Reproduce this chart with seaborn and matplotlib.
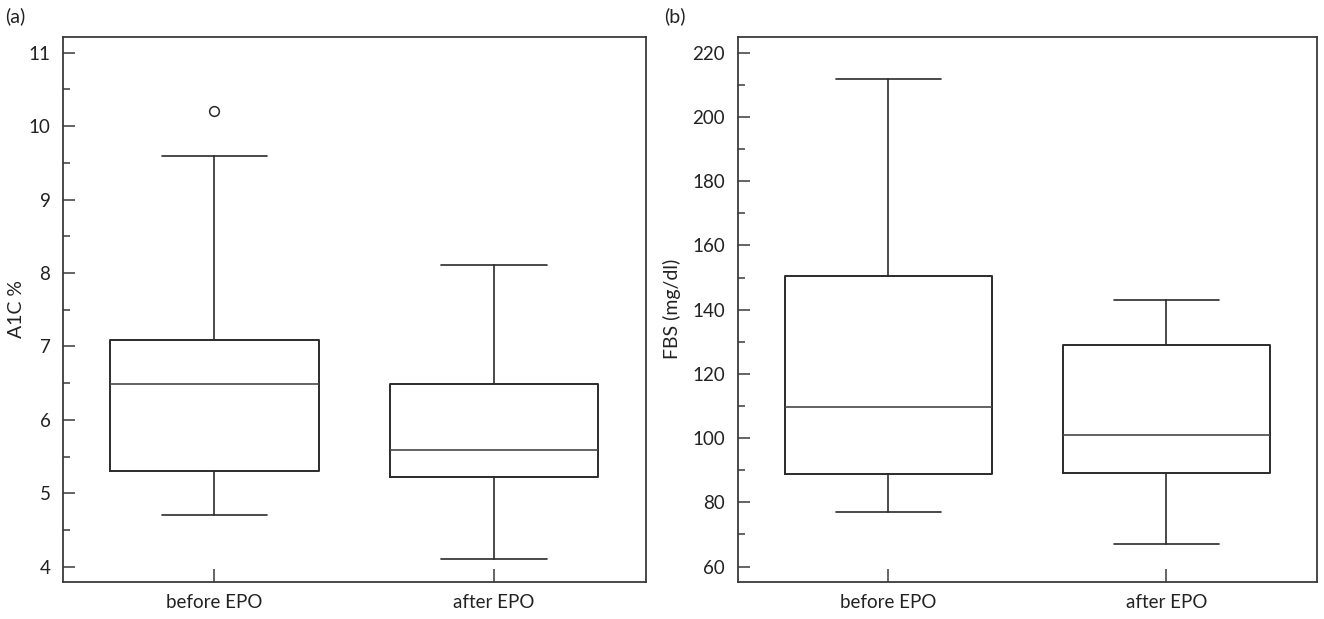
import matplotlib
matplotlib.use("Agg")
import matplotlib.pyplot as plt
import seaborn as sns
from matplotlib.ticker import MultipleLocator

# ---- data ----
groups = ["before EPO", "after EPO"]

a1c_whislo = [4.7, 4.1]
a1c_q1 = [5.30, 5.22]
a1c_med = [6.49, 5.59]
a1c_q3 = [7.09, 6.49]
a1c_whishi = [9.60, 8.11]
a1c_fliers = [[10.2], []]

fbs_whislo = [77.0, 67.0]
fbs_q1 = [88.8, 89.1]
fbs_med = [109.8, 101.0]
fbs_q3 = [150.5, 129.0]
fbs_whishi = [211.7, 143.0]
fbs_fliers = [[], []]

a1c_ticks = [4, 5, 6, 7, 8, 9, 10, 11]
fbs_ticks = [60, 80, 100, 120, 140, 160, 180, 200, 220]

sns.set_theme(style="ticks")
plt.rcParams["font.family"] = ["Lato", "DejaVu Sans"]

LINE = "#2b2b2b"
MED = "#484848"

fig = plt.figure(figsize=(13.24, 6.19), dpi=100)
ax1 = fig.add_axes([63 / 1324, (619 - 581.7) / 619, 582.7 / 1324, 544.7 / 619])
ax2 = fig.add_axes([737.7 / 1324, (619 - 581.7) / 619, 579.6 / 1324, 544.7 / 619])


def make_stats(lo, q1, med, q3, hi, fl):
    return [dict(whislo=lo[i], q1=q1[i], med=med[i], q3=q3[i], whishi=hi[i],
                 fliers=fl[i], label=groups[i]) for i in range(len(groups))]


def draw(ax, stats, ylim, ticks, minor, ylabel, labelpad):
    ax.bxp(stats, positions=range(len(groups)), widths=0.745, capwidths=0.377,
           showfliers=True, patch_artist=False,
           boxprops=dict(color=LINE, linewidth=1.4),
           whiskerprops=dict(color=LINE, linewidth=1.2),
           capprops=dict(color=LINE, linewidth=1.2),
           medianprops=dict(color=MED, linewidth=1.2),
           flierprops=dict(marker="o", markerfacecolor="none",
                           markeredgecolor=LINE, markersize=7, markeredgewidth=1.1))
    ax.set_xlim(-0.541, 1.542)
    ax.set_ylim(*ylim)
    ax.set_yticks(ticks)
    ax.set_yticklabels([str(t) for t in ticks])
    ax.yaxis.set_minor_locator(MultipleLocator(minor))
    ax.set_xticks(range(len(groups)))
    ax.set_xticklabels(groups)
    for s in ax.spines.values():
        s.set_visible(True)
        s.set_color("#3a3a3a")
        s.set_linewidth(1.3)
    ax.tick_params(axis="y", which="major", direction="in", length=8.4, width=1.1,
                   color="#3a3a3a", labelsize=13.5, pad=9, right=False,
                   labelcolor="#222222")
    ax.tick_params(axis="y", which="minor", direction="in", length=4.8, width=1.1,
                   color="#3a3a3a", right=False)
    ax.tick_params(axis="x", which="major", direction="in", length=9.5, width=1.1,
                   color="#3a3a3a", labelsize=13.5, pad=9, top=False,
                   labelcolor="#222222")
    ax.tick_params(axis="x", which="minor", bottom=False, top=False)
    ax.set_ylabel(ylabel, fontsize=14, color="#222222", labelpad=labelpad)
    ax.set_xlabel("")
    ax.set_facecolor("white")


draw(ax1, make_stats(a1c_whislo, a1c_q1, a1c_med, a1c_q3, a1c_whishi, a1c_fliers),
     (3.796, 11.214), a1c_ticks, 0.5, "A1C %", 2.5)
draw(ax2, make_stats(fbs_whislo, fbs_q1, fbs_med, fbs_q3, fbs_whishi, fbs_fliers),
     (55.3, 224.9), fbs_ticks, 10, "FBS (mg/dl)", 8)

fig.text(5 / 1324, 1 - 16 / 619, "(a)", fontsize=14, va="center", ha="left",
         color="#222222")
fig.text(664 / 1324, 1 - 16 / 619, "(b)", fontsize=14, va="center", ha="left",
         color="#222222")

fig.savefig("out.png", dpi=100, facecolor="white")
